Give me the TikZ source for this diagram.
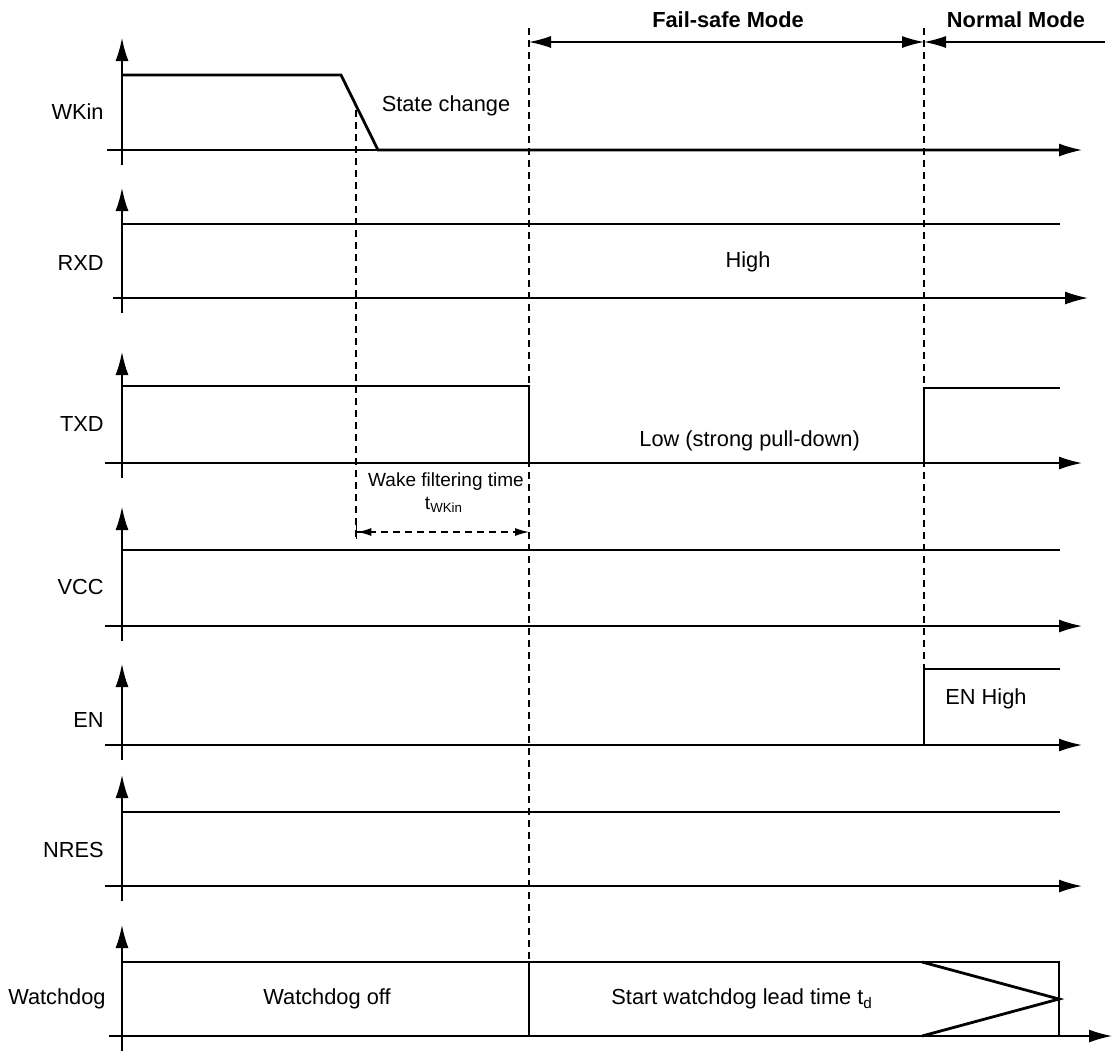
\documentclass[tikz,border=0pt]{standalone}
\usepackage{fontspec}
\setmainfont{Liberation Sans}
\usetikzlibrary{arrows.meta,positioning}
\tikzset{
  ax/.style={line width=0.75pt},
  sig/.style={line width=1.4pt,line join=miter},
  guide/.style={line width=0.65pt,dash pattern=on 3.5pt off 2.5pt},
  lbl/.style={inner sep=0pt,font=\fontsize{10.9}{13}\selectfont},
  small/.style={inner sep=0pt,font=\fontsize{9.5}{11}\selectfont},
  big/.style={-{Latex[length=11.5pt,width=6.5pt]}},
}
\begin{document}
\begin{tikzpicture}[x=0.5pt,y=-0.5pt]
\useasboundingbox (0,0) rectangle (1112,1057);
% axes: top of arrow / baseline / left end / right end
\foreach \tp/\bs/\lf/\rt in {38/150/107/1082,188/298/113/1088,352/463/105/1082,
  507/626/105/1082,664/745/105/1082,775/886/105/1082,925/1036/109/1112}{
  \draw[ax,big] (122,{\bs+15}) -- (122,\tp);
  \draw[ax,big] (\lf,\bs) -- (\rt,\bs);
}
% signal names
\node (wkin) [lbl,anchor=east] at (104,112) {WKin};
\node (rxd) [lbl,anchor=east] at (104,263) {RXD};
\node (txd) [lbl,anchor=east] at (104,424) {TXD};
\node (vcc) [lbl,anchor=east] at (104,587) {VCC};
\node (en) [lbl,anchor=east] at (104,720) {EN};
\node (nres) [lbl,anchor=east] at (104,850) {NRES};
\node (wdg) [lbl,anchor=east] at (106,999) {Watchdog};
%
% time markers
\draw[guide] (356,110) -- (356,537);
\draw[guide] (529,28) -- (529,962);
\draw[guide] (924,28) -- (924,669);
%
% waveforms
\draw[sig] (122,75) -- (341,75) -- (378,150) -- (1060,150);
\draw[sig] (122,224) -- (1060,224);
\draw[sig] (122,386) -- (529,386) -- (529,463) -- (924,463) -- (924,388) -- (1060,388);
\draw[sig] (122,550) -- (1060,550);
\draw[sig] (122,745) -- (924,745) -- (924,669) -- (1060,669);
\draw[sig] (122,812) -- (1060,812);
\draw[sig] (122,962) -- (1059,962) -- (1059,1036);
\draw[sig] (529,962) -- (529,1036);
\draw[sig] (922,962) -- (1059,999) -- (922,1036);
%
% modes
\coordinate (fs0) at (529,42);
\coordinate (fs1) at (924,42);
\coordinate (nm1) at (1105,42);
\path[line width=0.65pt,{Latex[length=11pt,width=6pt]}-{Latex[length=11pt,width=6pt]}] (fs0) edge (fs1);
\path[line width=0.65pt,-{Latex[length=11pt,width=6pt]}] (nm1) edge (fs1);
\node (fsm) [lbl,font=\fontsize{10.9}{13}\selectfont\bfseries] at (728,20) {Fail-safe Mode};
\node (nm) [lbl,font=\fontsize{10.9}{13}\selectfont\bfseries] at (1016,20) {Normal Mode};
%
% filter time
\coordinate (tw0) at (356,532);
\coordinate (tw1) at (529,532);
\path[guide,{Bar[width=7pt]Latex[length=7pt,width=4pt]}-{Latex[length=7pt,width=4pt]}] (tw0) edge (tw1);
\node (wft) [small] at (446,482) {Wake filtering time};
\node (twk) [small] at (444,505) {t\textsubscript{WKin}};
%
% texts in the plot
\node (sc) [lbl] at (446,106) {State change};
\node (hi) [lbl] at (748,262) {High};
\node (lo) [lbl,anchor=west] at (639,441) {Low (strong pull-down)};
\node (enh) [lbl] at (986,699) {EN High};
\node (wdoff) [lbl] at (327,999) {Watchdog off};
\node (wdlt) [lbl,anchor=west] at (611,999) {Start watchdog lead time t\textsubscript{d}};
\end{tikzpicture}
\end{document}
